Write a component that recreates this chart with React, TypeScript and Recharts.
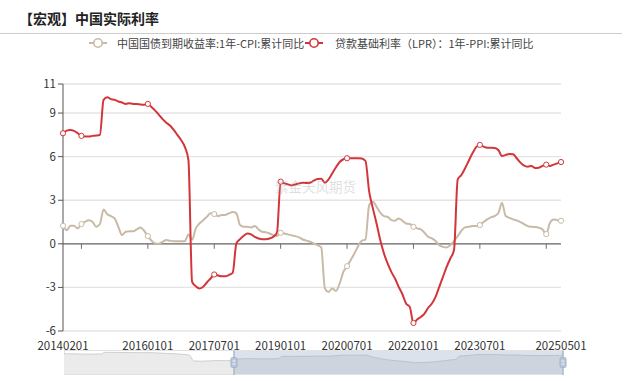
import React from 'react';
import {
  LineChart, Line, XAxis, YAxis, CartesianGrid, ReferenceLine, ReferenceDot,
  AreaChart, Area, ReferenceArea,
} from 'recharts';

// Monthly categories 2014-02 .. 2025-05
const dates: string[] = (() => {
  const out: string[] = [];
  let y = 2014, m = 2;
  while (y < 2025 || (y === 2025 && m <= 5)) {
    out.push(`${y}${String(m).padStart(2, '0')}01`);
    m++;
    if (m > 12) { m = 1; y++; }
  }
  return out;
})();

const tickLabels = ['20140201', '20160101', '20170701', '20190101', '20200701', '20220101', '20230701', '20250501'];
const axisTickDates = ['20140701', '20160101', '20170701', '20190101', '20200701', '20220101', '20230701', '20250101'];
const symbolDates = ['20140201', '20140701', '20160101', '20170701', '20190101', '20200701', '20220101', '20230701', '20250101', '20250501'];
const yTicks = [-6, -3, 0, 3, 6, 9, 11];

const seriesCpiName = '中国国债到期收益率:1年-CPI:累计同比';
const seriesPpiName = '贷款基础利率（LPR）：1年-PPI:累计同比';

const bondMinusCpi = [
  1.24, 0.94, 1.24, 1.24, 1.06, 1.36, 1.52, 1.63, 1.52, 1.17,
  1.36, 2.37, 2.03, 1.91, 1.75, 1.17, 0.6, 0.83, 0.87, 0.87,
  0.99, 1.13, 0.9, 0.53, 0.21, 0.03, 0.0, 0.14, 0.26, 0.21,
  0.18, 0.18, 0.18, 0.18, 0.64, 0.28, 1.06, 1.4, 1.63, 1.86,
  2.1, 2.05, 1.91, 1.98, 1.99, 2.1, 2.19, 2.1, 1.29, 1.17,
  1.17, 1.13, 1.22, 0.99, 0.83, 0.8, 0.71, 0.6, 0.53, 0.76,
  0.71, 0.65, 0.58, 0.53, 0.44, 0.3, 0.22, 0.14, 0.03, -0.09,
  -0.25, -3.08, -3.31, -3.08, -3.24, -2.73, -1.93, -1.54, -1.12, -0.66,
  -0.16, 0.21, 0.3, 2.67, 2.9, 2.55, 2.14, 1.91, 1.86, 1.63,
  1.59, 1.75, 1.59, 1.4, 1.36, 1.17, 1.06, 0.99, 0.76, 0.48,
  0.37, 0.19, -0.09, -0.21, -0.25, -0.09, 0.19, 0.53, 0.9, 1.13,
  1.17, 1.22, 1.22, 1.29, 1.5, 1.68, 1.82, 1.91, 2.1, 2.83,
  1.91, 1.79, 1.68, 1.61, 1.5, 1.36, 1.22, 1.17, 1.15, 1.1,
  0.99, 0.67, 1.45, 1.68, 1.63, 1.59,
];

const lprMinusPpi = [
  7.61, 7.79, 7.84, 7.77, 7.61, 7.43, 7.38, 7.38, 7.43, 7.45,
  7.5, 9.91, 10.09, 9.96, 9.91, 9.8, 9.73, 9.63, 9.68, 9.63,
  9.63, 9.59, 9.57, 9.63, 9.41, 9.17, 8.88, 8.58, 8.34, 8.14,
  7.84, 7.5, 7.15, 6.69, 5.77, -2.62, -2.92, -3.08, -2.96, -2.66,
  -2.39, -2.11, -2.18, -2.23, -2.23, -2.14, -2.0, 0.03, 0.32, 0.55,
  0.71, 0.65, 0.48, 0.37, 0.32, 0.32, 0.37, 0.48, 0.76, 4.28,
  4.16, 4.09, 4.02, 4.09, 4.16, 4.21, 4.18, 4.21, 4.35, 4.46,
  4.48, 4.21, 4.44, 4.86, 5.27, 5.63, 5.82, 5.89, 5.89, 5.89,
  5.89, 5.87, 5.7, 3.59, 2.44, 1.4, 0.26, -0.66, -1.35, -1.93,
  -2.39, -2.96, -3.47, -4.11, -4.34, -5.45, -5.21, -5.03, -4.8, -4.4,
  -4.11, -3.65, -2.96, -2.28, -1.59, -1.01, -0.43, 4.44, 4.74, 5.2,
  5.72, 6.23, 6.65, 6.81, 6.69, 6.62, 6.62, 6.6, 6.46, 6.05,
  6.12, 6.19, 6.16, 5.89, 5.59, 5.38, 5.31, 5.36, 5.22, 5.24,
  5.36, 5.45, 5.36, 5.45, 5.54, 5.63,
];

const sliderStart = '20171201';

const data = dates.map((d, i) => ({ date: d, cpi: bondMinusCpi[i], ppi: lprMinusPpi[i] }));

const RED = '#d3363a';
const BEIGE = '#c8baa6';
const FONT = '"Noto Sans CJK SC", "Noto Sans", sans-serif';

const symbolSet = new Set(symbolDates);
const makeDot = (color: string) => (props: any) => {
  const { cx, cy, payload, index } = props;
  if (!payload || !symbolSet.has(payload.date)) return <g key={`e-${index}`} />;
  return <circle key={`d-${index}`} cx={cx} cy={cy} r={2.6} fill="#fff" stroke={color} strokeWidth={1} />;
};

const LegendIcon = ({ color, left }: { color: string; left: number }) => (
  <svg style={{ position: 'absolute', left, top: 37 }} width={18} height={12}>
    <line x1={0} y1={6} x2={18} y2={6} stroke={color} strokeWidth={2} />
    <circle cx={9} cy={6} r={4.2} fill="#fff" stroke={color} strokeWidth={1.6} />
  </svg>
);

export default function App() {
  return (
    <div style={{ position: 'relative', width: 632, height: 381, background: '#fff', fontFamily: FONT, overflow: 'hidden' }}>
      <style>{`body{margin:0;}`}</style>
      <LineChart width={632} height={381} data={data} margin={{ top: 84, right: 71, bottom: 20, left: 0 }}>
        <CartesianGrid vertical={false} stroke="#e4e4e4" strokeWidth={1.4} />
        <XAxis
          dataKey="date"
          ticks={tickLabels}
          interval={0}
          tickLine={false}
          axisLine={false}
          tick={{ fontSize: 11.5, fill: '#333', fontFamily: FONT }}
          tickMargin={5}
        />
        <YAxis
          domain={[-6, 11]}
          ticks={yTicks}
          interval={0}
          width={63}
          axisLine={{ stroke: '#555' }}
          tickLine={{ stroke: '#555' }}
          tickSize={5}
          tick={{ fontSize: 11.5, fill: '#333', fontFamily: FONT }}
        />
        <YAxis yAxisId="r" orientation="right" width={0} domain={[-6, 11]} tick={false} tickLine={false} axisLine={{ stroke: '#888' }} />
        <ReferenceLine y={0} stroke="#6e6e6e" strokeWidth={1.2} />
        {axisTickDates.map((d) => (
          <ReferenceDot
            key={d}
            x={d}
            y={0}
            shape={(p: any) => <line x1={p.cx} y1={p.cy} x2={p.cx} y2={p.cy + 5} stroke="#6e6e6e" strokeWidth={1} />}
          />
        ))}
        <Line type="monotone" dataKey="cpi" name={seriesCpiName} stroke={BEIGE} strokeWidth={2} dot={makeDot(BEIGE)} activeDot={false} isAnimationActive={false} />
        <Line type="monotone" dataKey="ppi" name={seriesPpiName} stroke={RED} strokeWidth={2} dot={makeDot(RED)} activeDot={false} isAnimationActive={false} />
      </LineChart>

      {/* slider */}
      <div style={{ position: 'absolute', left: 64, top: 350, width: 499, height: 25, border: '1px solid #e2e2e2', boxSizing: 'border-box' }} />
      <div style={{ position: 'absolute', left: 0, top: 350 }}>
        <AreaChart width={632} height={25} data={data} margin={{ top: 1, right: 69, bottom: 1, left: 64 }}>
          <XAxis dataKey="date" hide />
          <YAxis hide domain={[-22, 12]} />
          <Area type="monotone" dataKey="ppi" baseValue="dataMin" stroke="#cfcfcf" strokeWidth={1} fill="#ebebeb" fillOpacity={1} isAnimationActive={false} />
          <ReferenceArea x1={sliderStart} x2={dates[dates.length - 1]} fill="#8ea4c4" fillOpacity={0.32} stroke="none" ifOverflow="visible" />
          {[sliderStart, dates[dates.length - 1]].map((d) => (
            <ReferenceDot
              key={`h-${d}`}
              x={d}
              y={-5}
              ifOverflow="visible"
              shape={(p: any) => (
                <g>
                  <line x1={p.cx} y1={p.cy - 12} x2={p.cx} y2={p.cy + 13} stroke="#a9b8cd" strokeWidth={1.5} />
                  <rect x={p.cx - 3} y={p.cy - 5} width={6} height={10} rx={1.5} fill="#b9c6d8" stroke="#a3b3c9" strokeWidth={1} />
                  <line x1={p.cx - 1.5} y1={p.cy - 1.5} x2={p.cx + 1.5} y2={p.cy - 1.5} stroke="#fff" strokeWidth={0.8} />
                  <line x1={p.cx - 1.5} y1={p.cy + 1.5} x2={p.cx + 1.5} y2={p.cy + 1.5} stroke="#fff" strokeWidth={0.8} />
                </g>
              )}
            />
          ))}
        </AreaChart>
      </div>

      {/* title */}
      <div style={{ position: 'absolute', left: 19, top: 7, fontSize: 14, fontWeight: 700, color: '#222', lineHeight: '22px', whiteSpace: 'nowrap' }}>
        【宏观】中国实际利率
      </div>
      <div style={{ position: 'absolute', left: 0, top: 33, width: 622, height: 1, background: '#cccccc' }} />

      {/* legend */}
      <LegendIcon color={BEIGE} left={89} />
      <div style={{ position: 'absolute', left: 117, top: 35, fontSize: 11, color: '#444', lineHeight: '16px', whiteSpace: 'nowrap' }}>{seriesCpiName}</div>
      <LegendIcon color={RED} left={305} />
      <div style={{ position: 'absolute', left: 335, top: 35, fontSize: 11, color: '#444', lineHeight: '16px', whiteSpace: 'nowrap' }}>{seriesPpiName}</div>

      {/* watermark */}
      <div style={{ position: 'absolute', left: 275, top: 177, fontSize: 13.5, color: 'rgba(160,160,160,0.35)', lineHeight: '18px', whiteSpace: 'nowrap' }}>
        紫金天风期货
      </div>
    </div>
  );
}
